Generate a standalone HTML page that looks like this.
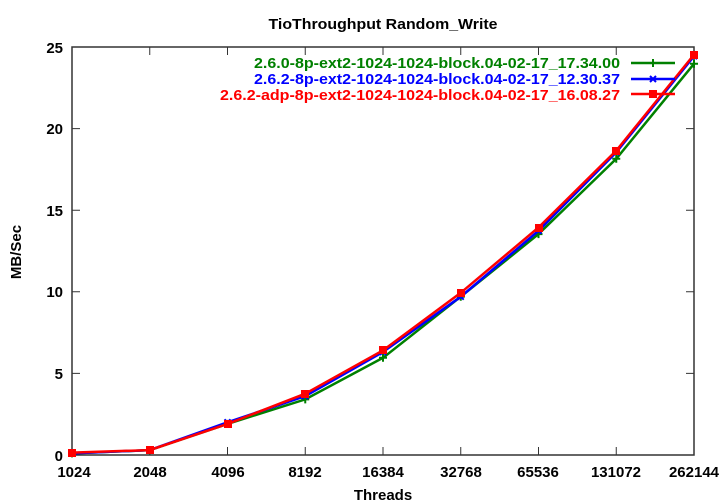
<!DOCTYPE html>
<html><head><meta charset="utf-8"><style>body{margin:0;background:#fff}svg{display:block}text{font-family:"Liberation Sans",sans-serif;font-weight:bold;font-size:15px}</style></head><body>
<svg width="720" height="504" xmlns="http://www.w3.org/2000/svg">
<text x="383" y="29" text-anchor="middle" textLength="229" lengthAdjust="spacingAndGlyphs">TioThroughput Random_Write</text>
<g stroke="#333" stroke-width="1.5" fill="none">
<rect x="72" y="47" width="622" height="408"/>
</g>
<g stroke="#333" stroke-width="1">
<path d="M72 373.4h8M694 373.4h-8M72 291.8h8M694 291.8h-8M72 210.2h8M694 210.2h-8M72 128.6h8M694 128.6h-8"/>
<path d="M149.75 455v-8M149.75 47v8M227.5 455v-8M227.5 47v8M305.25 455v-8M305.25 47v8M383 455v-8M383 47v8M460.75 455v-8M460.75 47v8M538.5 455v-8M538.5 47v8M616.25 455v-8M616.25 47v8"/>
</g>
<g text-anchor="end">
<text x="63" y="461">0</text><text x="63" y="379">5</text><text x="63" y="297">10</text><text x="63" y="216">15</text><text x="63" y="134">20</text><text x="63" y="53">25</text>
</g>
<g text-anchor="middle">
<text x="74" y="477">1024</text><text x="150" y="477">2048</text><text x="228" y="477">4096</text><text x="305" y="477">8192</text><text x="383" y="477">16384</text><text x="461" y="477">32768</text><text x="538" y="477">65536</text><text x="616" y="477">131072</text><text x="694" y="477">262144</text>
<text x="383" y="500">Threads</text>
</g>
<text transform="translate(21,252) rotate(-90)" text-anchor="middle">MB/Sec</text>
<g fill="none" stroke-width="2.5">
<polyline stroke="#008000" points="72,453.4 149.75,450.1 227.5,423.9 305.25,399.4 383,357.8 460.75,296.7 538.5,234.1 616.25,158.8 694,63.8"/>
<path stroke="#008000" stroke-width="2" d="M68 453.4h8M72 449.4v8M145.75 450.1h8M149.75 446.1v8M223.5 423.9h8M227.5 419.9v8M301.25 399.4h8M305.25 395.4v8M379 357.8h8M383 353.8v8M456.75 296.7h8M460.75 292.7v8M534.5 234.1h8M538.5 230.1v8M612.25 158.8h8M616.25 154.8v8M690 63.8h8M694 59.8v8M649 63h8M653 59v8"/>
<polyline stroke="#0000ff" points="72,453.4 149.75,450.1 227.5,422.3 305.25,396.1 383,352.0 460.75,296.7 538.5,230.8 616.25,152.3 694,56.2"/>
<path stroke="#0000ff" stroke-width="2" d="M69 450.4l6 6M75 450.4l-6 6M146.75 447.1l6 6M152.75 447.1l-6 6M224.5 419.3l6 6M230.5 419.3l-6 6M302.25 393.1l6 6M308.25 393.1l-6 6M380 349l6 6M386 349l-6 6M457.75 293.7l6 6M463.75 293.7l-6 6M535.5 227.8l6 6M541.5 227.8l-6 6M613.25 149.3l6 6M619.25 149.3l-6 6M691 53.2l6 6M697 53.2l-6 6M650 76l6 6M656 76l-6 6"/>
<polyline stroke="#ff0000" points="72,452.6 149.75,450.1 227.5,423.9 305.25,393.7 383,350.4 460.75,292.8 538.5,227.5 616.25,150.6 694,54.6"/>
<path stroke="#008000" d="M631 63h44"/><path stroke="#0000ff" d="M631 79h44"/><path stroke="#ff0000" d="M631 94h44"/>
</g>
<g fill="#ff0000">
<rect x="68" y="449" width="8" height="8"/><rect x="146" y="446" width="8" height="8"/><rect x="224" y="420" width="8" height="8"/><rect x="301" y="390" width="8" height="8"/><rect x="379" y="346" width="8" height="8"/><rect x="457" y="289" width="8" height="8"/><rect x="535" y="224" width="8" height="8"/><rect x="612" y="147" width="8" height="8"/><rect x="690" y="51" width="8" height="8"/><rect x="649" y="90" width="8" height="8"/>
</g>
<g text-anchor="end">
<text x="620" y="68" fill="#008000" textLength="366" lengthAdjust="spacingAndGlyphs">2.6.0-8p-ext2-1024-1024-block.04-02-17_17.34.00</text>
<text x="620" y="84" fill="#0000ff" textLength="366" lengthAdjust="spacingAndGlyphs">2.6.2-8p-ext2-1024-1024-block.04-02-17_12.30.37</text>
<text x="620" y="100" fill="#ff0000" textLength="400" lengthAdjust="spacingAndGlyphs">2.6.2-adp-8p-ext2-1024-1024-block.04-02-17_16.08.27</text>
</g>
</svg>
</body></html>
